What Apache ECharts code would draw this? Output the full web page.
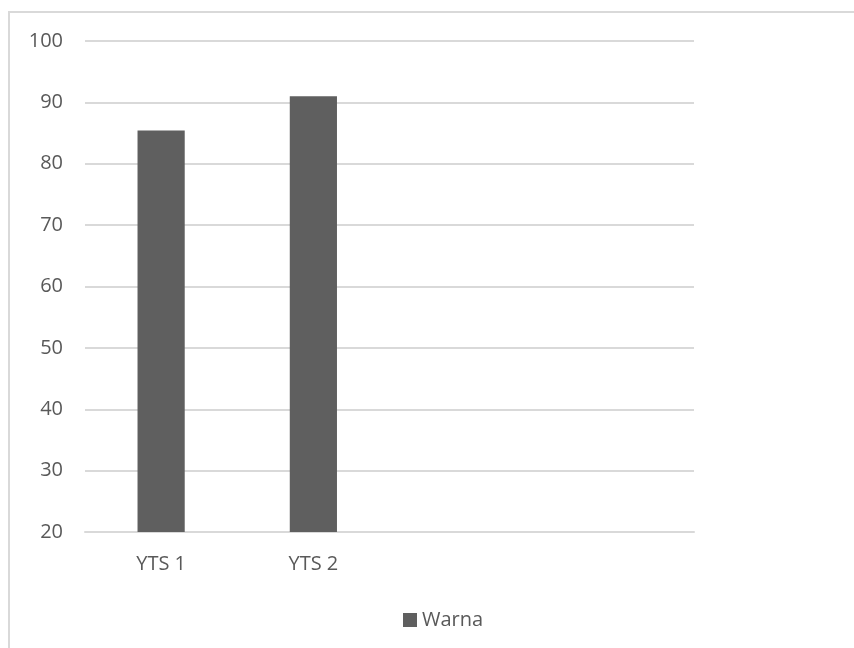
<!DOCTYPE html>
<html>
<head>
<meta charset="utf-8">
<script src="https://cdn.jsdelivr.net/npm/echarts@6/dist/echarts.min.js"></script>
<style>
  html, body { margin: 0; padding: 0; background: #fff; }
  #frame { position: absolute; left: 8px; top: 11px; width: 860px; height: 650px; border: 2px solid #d9d9d9; box-sizing: border-box; }
  #chart { width: 854px; height: 648px; position: absolute; left: 0; top: 0; }
</style>
</head>
<body>
<div id="frame"></div>
<div id="chart"></div>
<script>
// Scores per test round; the trailing empty slots keep the category spacing
const categories = ['YTS 1', 'YTS 2', '', ''];
const warna = [85.4, 91, null, null];
const yTicks = { min: 20, max: 100, step: 10 };

const chart = echarts.init(document.getElementById('chart'), null, { renderer: 'canvas' });
const font = '"Open Sans", "Noto Sans", sans-serif';

chart.setOption({
  animation: false,
  grid: { left: 85, right: 160, top: 41, bottom: 116 },
  legend: {
    data: ['Warna'],
    top: 605,
    left: 398,
    itemWidth: 14,
    itemHeight: 14,
    itemGap: 8,
    icon: 'rect',
    textStyle: { color: '#595959', fontSize: 20, fontFamily: font }
  },
  xAxis: {
    type: 'category',
    data: categories,
    axisLine: { show: true, lineStyle: { color: '#d9d9d9', width: 2 } },
    axisTick: { show: false },
    axisLabel: { color: '#595959', fontSize: 20, fontFamily: font, margin: 22 }
  },
  yAxis: {
    type: 'value',
    min: yTicks.min,
    max: yTicks.max,
    interval: yTicks.step,
    axisLine: { show: false },
    axisTick: { show: false },
    splitLine: { lineStyle: { color: '#d9d9d9', width: 2 } },
    axisLabel: { color: '#595959', fontSize: 20, fontFamily: font, margin: 22 }
  },
  series: [{
    name: 'Warna',
    type: 'bar',
    data: warna,
    barWidth: '31%',
    itemStyle: { color: '#5f5f5f' }
  }]
});
</script>
</body>
</html>
